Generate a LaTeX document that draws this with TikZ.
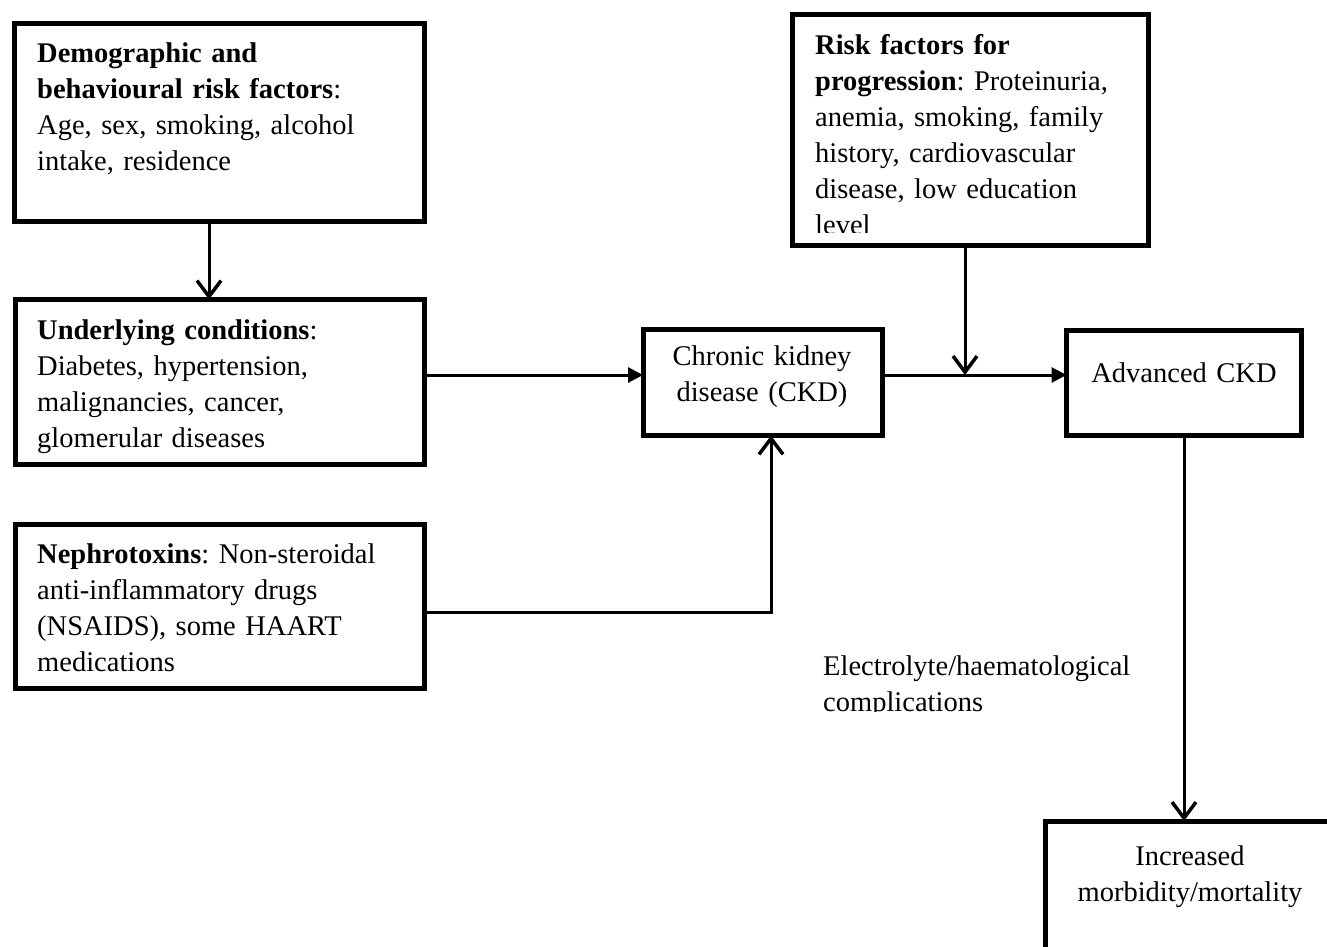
\documentclass[tikz,border=0pt]{standalone}
\usepackage{fontspec}
\setmainfont{Liberation Serif}
\frenchspacing
\usetikzlibrary{arrows.meta,positioning,calc}
\tikzset{
    box/.style={draw,line width=5pt,inner sep=0pt,outer sep=0pt,anchor=north west},
    box text/.style={inner sep=0pt,align=left,anchor=base west,text width=#1},
    box text/.default=380pt,
    mid text/.style={inner sep=0pt,align=center,anchor=base,text width=#1},
    mid text/.default=240pt,
    arr/.style={-{Triangle[length=15pt,width=15pt]},line width=3pt},
    varr/.style={-{Straight Barb[length=16pt,width=24pt,line width=3.5pt]},line width=3pt},
}
\tikzstyle{every node}=[font=\fontsize{28.5}{36}\selectfont]

\begin{document}
\begin{tikzpicture}[x=1pt,y=-1pt]
    \clip (0,0) rectangle (1327,947);
    % boxes
    \node[box,minimum width=409.5,minimum height=197.5] (demo) at (14.5,23.5) {};
    \node[box,minimum width=409.5,minimum height=165] (under) at (15,299.5) {};
    \node[box,minimum width=409.5,minimum height=163.5] (nephro) at (15,524.5) {};
    \node[box,minimum width=239.5,minimum height=106] (ckd) at (643,329.5) {};
    \node[box,minimum width=356,minimum height=230.5] (risk) at (792,14.5) {};
    \node[box,minimum width=234.5,minimum height=105.5] (adv) at (1066.5,330) {};
    \node[box,minimum width=290,minimum height=150] (incr) at (1045,821) {};

    % texts
    \node[box text] (demo text) at (37,63) {\textbf{Demographic and}\\\textbf{behavioural risk factors}:\\Age, sex, smoking, alcohol\\intake, residence};
    \node[box text] (under text) at (37,339) {\textbf{Underlying conditions}:\\Diabetes, hypertension,\\malignancies, cancer,\\glomerular diseases};
    \node[box text] (nephro text) at (37,563) {\textbf{Nephrotoxins}: Non-steroidal\\anti-inflammatory drugs\\(NSAIDS), some HAART\\medications};
    \node[mid text] (ckd text) at (762,365) {Chronic kidney\\disease (CKD)};
    \node[mid text] (adv text) at (1184,382) {Advanced CKD};
    \node[mid text=285pt] (incr text) at (1190,865) {Increased\\morbidity/mortality};
    \begin{scope}
        \clip (792,14.5) rectangle (1148,232);
        \node[box text=330pt] (risk text) at (815,55) {\textbf{Risk factors for}\\\textbf{progression}: Proteinuria,\\anemia, smoking, family\\history, cardiovascular\\disease, low education\\level};
    \end{scope}
    \begin{scope}
        \clip (800,630) rectangle (1160,711);
        \node[box text=340pt] (compl text) at (823,675) {Electrolyte/haematological\\complications};
    \end{scope}

    % connectors
    \coordinate (join) at (965,0 |- 0,375);
    \draw[varr] (209,0 |- demo.south) -- (209,0 |- under.north);
    \draw[arr] (under.east |- 0,375) -- (ckd.west |- 0,375);
    \draw[varr] (nephro.east |- 0,612.5) -| (771,0 |- ckd.south);
    \draw[arr] (ckd.east |- 0,375) -- (adv.west |- 0,375);
    \draw[varr] (join |- risk.south) -- (join);
    \draw[varr] (1184,0 |- adv.south) -- (1184,0 |- incr.north);
\end{tikzpicture}
\end{document}
